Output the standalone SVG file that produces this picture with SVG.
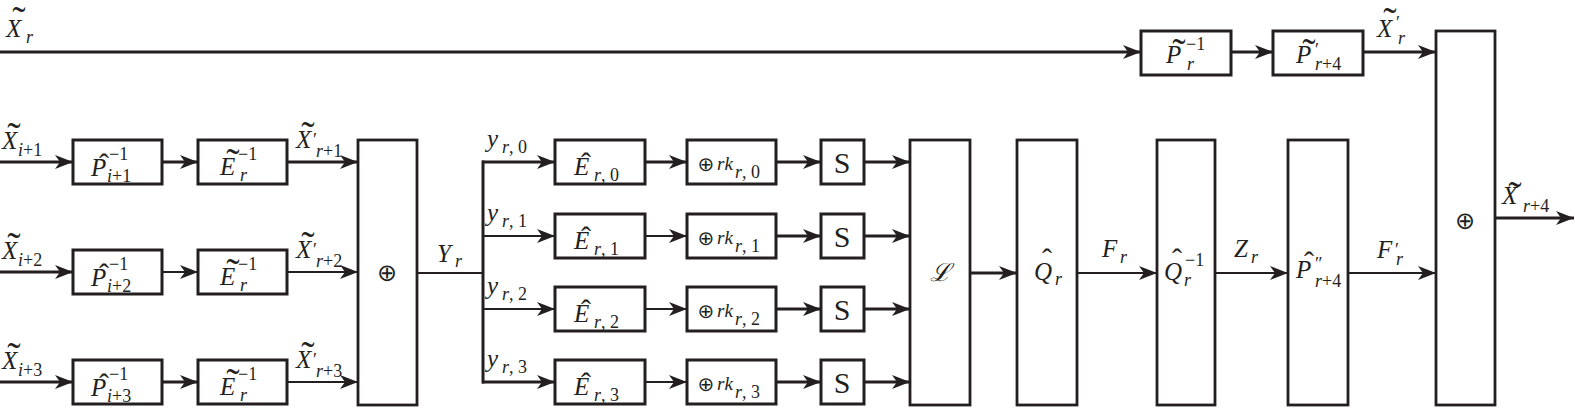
<svg xmlns="http://www.w3.org/2000/svg" width="1575" height="410" viewBox="0 0 1575 410" font-family="Liberation Serif, serif">
<style>
.box{fill:#fff;stroke:#231f20;stroke-width:3}
.tall{fill:#fff;stroke:#231f20;stroke-width:2.8}
.ln{fill:none;stroke:#231f20;stroke-width:3}
.thin{fill:none;stroke:#231f20;stroke-width:2.2}
.arr{marker-end:url(#ah)}
text{fill:#231f20;font-size:25px;font-style:italic}
.s{font-size:18px;font-style:normal}
.si{font-size:18px;font-style:italic}
.t{font-size:40px;font-style:normal;text-anchor:middle}
.h{font-size:30px;font-style:normal;text-anchor:middle}
.p{font-size:18px;font-style:normal}
.ox{font-size:24px;font-style:normal;text-anchor:middle}
.oxs{font-size:20px;font-style:normal;text-anchor:middle}
.S{font-size:30px;font-style:normal;text-anchor:middle}
</style>
<defs>
<marker id="ah" markerUnits="userSpaceOnUse" markerWidth="18" markerHeight="14" refX="18" refY="7" orient="auto">
<path d="M0,0 L18,7 L0,14 L5,7 Z" fill="#231f20"/>
</marker>
</defs>

<g id="connectors">
<line class="ln arr" x1="0" y1="52" x2="1141" y2="52"/>
<line class="ln arr" x1="1231" y1="52" x2="1273" y2="52"/>
<line class="ln arr" x1="1363" y1="52" x2="1436" y2="52"/>
<line class="ln arr" x1="1495" y1="218" x2="1574" y2="218"/>

<line class="ln arr" x1="0" y1="162" x2="73" y2="162"/>
<line class="ln arr" x1="162" y1="162" x2="198" y2="162"/>
<line class="ln arr" x1="287" y1="162" x2="358" y2="162"/>
<line class="ln arr" x1="0" y1="272" x2="73" y2="272"/>
<line class="thin arr" x1="162" y1="272" x2="198" y2="272"/>
<line class="thin arr" x1="287" y1="272" x2="358" y2="272"/>
<line class="ln arr" x1="0" y1="382" x2="73" y2="382"/>
<line class="ln arr" x1="162" y1="382" x2="198" y2="382"/>
<line class="thin arr" x1="287" y1="382" x2="358" y2="382"/>

<line class="thin" x1="417" y1="273" x2="483" y2="273"/>
<line class="ln" x1="483" y1="160.5" x2="483" y2="383.5"/>
<line class="ln arr" x1="482" y1="162" x2="555" y2="162"/>
<line class="thin arr" x1="482" y1="236" x2="555" y2="236"/>
<line class="thin arr" x1="482" y1="309" x2="555" y2="309"/>
<line class="ln arr" x1="482" y1="382" x2="555" y2="382"/>

<line class="ln arr" x1="645" y1="162" x2="687" y2="162"/>
<line class="thin arr" x1="645" y1="236" x2="687" y2="236"/>
<line class="thin arr" x1="645" y1="309" x2="687" y2="309"/>
<line class="thin arr" x1="645" y1="382" x2="687" y2="382"/>

<line class="ln arr" x1="776" y1="162" x2="821" y2="162"/>
<line class="ln arr" x1="776" y1="236" x2="821" y2="236"/>
<line class="ln arr" x1="776" y1="309" x2="821" y2="309"/>
<line class="ln arr" x1="776" y1="382" x2="821" y2="382"/>

<line class="ln arr" x1="864" y1="162" x2="910" y2="162"/>
<line class="ln arr" x1="864" y1="236" x2="910" y2="236"/>
<line class="ln arr" x1="864" y1="309" x2="910" y2="309"/>
<line class="ln arr" x1="864" y1="382" x2="910" y2="382"/>

<line class="ln arr" x1="970" y1="273" x2="1017" y2="273"/>
<line class="thin arr" x1="1077" y1="273" x2="1157" y2="273"/>
<line class="thin arr" x1="1215" y1="273" x2="1288" y2="273"/>
<line class="thin arr" x1="1348" y1="273" x2="1436" y2="273"/>
</g>

<g id="edge-labels">
<text style="font-family:'Liberation Serif',serif"><tspan x="6" y="37">X</tspan><tspan class="t" x="19" y="34">˜</tspan><tspan class="si" x="26" y="43">r</tspan></text>

<text style="font-family:'Liberation Serif',serif"><tspan x="2" y="149">X</tspan><tspan class="t" x="14" y="150">˜</tspan><tspan class="si" x="18" y="156">i</tspan><tspan class="s">+1</tspan></text>
<text style="font-family:'Liberation Serif',serif"><tspan x="2" y="259">X</tspan><tspan class="t" x="14" y="260">˜</tspan><tspan class="si" x="18" y="266">i</tspan><tspan class="s">+2</tspan></text>
<text style="font-family:'Liberation Serif',serif"><tspan x="2" y="369">X</tspan><tspan class="t" x="14" y="370">˜</tspan><tspan class="si" x="18" y="376">i</tspan><tspan class="s">+3</tspan></text>

<text style="font-family:'Liberation Serif',serif"><tspan x="296" y="148">X</tspan><tspan class="t" x="308" y="149">˜</tspan><tspan class="p" x="313" y="146">′</tspan><tspan class="si" x="316" y="157">r</tspan><tspan class="s">+1</tspan></text>
<text style="font-family:'Liberation Serif',serif"><tspan x="296" y="258">X</tspan><tspan class="t" x="308" y="259">˜</tspan><tspan class="p" x="313" y="256">′</tspan><tspan class="si" x="316" y="267">r</tspan><tspan class="s">+2</tspan></text>
<text style="font-family:'Liberation Serif',serif"><tspan x="296" y="368">X</tspan><tspan class="t" x="308" y="369">˜</tspan><tspan class="p" x="313" y="366">′</tspan><tspan class="si" x="316" y="377">r</tspan><tspan class="s">+3</tspan></text>

<text style="font-family:'Liberation Serif',serif"><tspan x="437" y="262">Y</tspan><tspan class="si" x="455" y="267">r</tspan></text>

<text style="font-family:'Liberation Serif',serif"><tspan x="487" y="147">y</tspan><tspan class="si" x="502" y="153">r</tspan><tspan class="s">, 0</tspan></text>
<text style="font-family:'Liberation Serif',serif"><tspan x="487" y="221">y</tspan><tspan class="si" x="502" y="227">r</tspan><tspan class="s">, 1</tspan></text>
<text style="font-family:'Liberation Serif',serif"><tspan x="487" y="294">y</tspan><tspan class="si" x="502" y="300">r</tspan><tspan class="s">, 2</tspan></text>
<text style="font-family:'Liberation Serif',serif"><tspan x="487" y="367">y</tspan><tspan class="si" x="502" y="373">r</tspan><tspan class="s">, 3</tspan></text>

<text style="font-family:'Liberation Serif',serif"><tspan x="1102" y="257">F</tspan><tspan class="si" x="1120" y="263">r</tspan></text>
<text style="font-family:'Liberation Serif',serif"><tspan x="1234" y="257">Z</tspan><tspan class="si" x="1251" y="263">r</tspan></text>
<text style="font-family:'Liberation Serif',serif"><tspan x="1377" y="258">F</tspan><tspan class="p" x="1395" y="256">′</tspan><tspan class="si" x="1396" y="265">r</tspan></text>

<text style="font-family:'Liberation Serif',serif"><tspan x="1377" y="37">X</tspan><tspan class="t" x="1390" y="35">˜</tspan><tspan class="p" x="1396" y="29">′</tspan><tspan class="si" x="1398" y="44">r</tspan></text>

<text style="font-family:'Liberation Serif',serif"><tspan x="1502" y="204">X</tspan><tspan class="t" x="1515" y="209">˜</tspan><tspan class="si" x="1523" y="212">r</tspan><tspan class="s">+4</tspan></text>
</g>

<g id="node-p-inv-1">
<rect class="box" x="73" y="140" width="89" height="44"/>
<text style="font-family:'Liberation Serif',serif"><tspan x="91" y="176">P</tspan><tspan class="h" x="104" y="174">ˆ</tspan><tspan class="s" x="109" y="160">−1</tspan><tspan class="si" x="107" y="182">i</tspan><tspan class="s">+1</tspan></text>
</g>
<g id="node-e-inv-1">
<rect class="box" x="198" y="140" width="89" height="44"/>
<text style="font-family:'Liberation Serif',serif"><tspan x="220" y="175">E</tspan><tspan class="t" x="233" y="176">˜</tspan><tspan class="s" x="238" y="160">−1</tspan><tspan class="si" x="240" y="181">r</tspan></text>
</g>
<g id="node-p-inv-2">
<rect class="box" x="73" y="250" width="89" height="44"/>
<text style="font-family:'Liberation Serif',serif"><tspan x="91" y="286">P</tspan><tspan class="h" x="104" y="284">ˆ</tspan><tspan class="s" x="109" y="270">−1</tspan><tspan class="si" x="107" y="292">i</tspan><tspan class="s">+2</tspan></text>
</g>
<g id="node-e-inv-2">
<rect class="box" x="198" y="250" width="89" height="44"/>
<text style="font-family:'Liberation Serif',serif"><tspan x="220" y="285">E</tspan><tspan class="t" x="233" y="286">˜</tspan><tspan class="s" x="238" y="270">−1</tspan><tspan class="si" x="240" y="291">r</tspan></text>
</g>
<g id="node-p-inv-3">
<rect class="box" x="73" y="360" width="89" height="44"/>
<text style="font-family:'Liberation Serif',serif"><tspan x="91" y="396">P</tspan><tspan class="h" x="104" y="394">ˆ</tspan><tspan class="s" x="109" y="380">−1</tspan><tspan class="si" x="107" y="402">i</tspan><tspan class="s">+3</tspan></text>
</g>
<g id="node-e-inv-3">
<rect class="box" x="198" y="360" width="89" height="44"/>
<text style="font-family:'Liberation Serif',serif"><tspan x="220" y="395">E</tspan><tspan class="t" x="233" y="396">˜</tspan><tspan class="s" x="238" y="380">−1</tspan><tspan class="si" x="240" y="401">r</tspan></text>
</g>

<g id="node-xor-left">
<rect class="tall" x="358" y="140" width="59" height="265"/>
<text class="ox" x="387" y="281" style="font-family:'DejaVu Sans',sans-serif">⊕</text>
</g>

<g id="node-e-0">
<rect class="box" x="555" y="140" width="90" height="44"/>
<text style="font-family:'Liberation Serif',serif"><tspan x="574" y="175">E</tspan><tspan class="h" x="586" y="173">ˆ</tspan><tspan class="si" x="594" y="181">r</tspan><tspan class="s">, 0</tspan></text>
</g>
<g id="node-e-1">
<rect class="box" x="555" y="214" width="90" height="44"/>
<text style="font-family:'Liberation Serif',serif"><tspan x="574" y="249">E</tspan><tspan class="h" x="586" y="247">ˆ</tspan><tspan class="si" x="594" y="255">r</tspan><tspan class="s">, 1</tspan></text>
</g>
<g id="node-e-2">
<rect class="box" x="555" y="287" width="90" height="44"/>
<text style="font-family:'Liberation Serif',serif"><tspan x="574" y="322">E</tspan><tspan class="h" x="586" y="320">ˆ</tspan><tspan class="si" x="594" y="328">r</tspan><tspan class="s">, 2</tspan></text>
</g>
<g id="node-e-3">
<rect class="box" x="555" y="360" width="90" height="44"/>
<text style="font-family:'Liberation Serif',serif"><tspan x="574" y="395">E</tspan><tspan class="h" x="586" y="393">ˆ</tspan><tspan class="si" x="594" y="401">r</tspan><tspan class="s">, 3</tspan></text>
</g>

<g id="node-rk-0">
<rect class="box" x="687" y="140" width="89" height="44"/>
<text style="font-family:'Liberation Serif',serif"><tspan class="oxs" style="font-family:'DejaVu Sans',sans-serif" x="706" y="171">⊕</tspan><tspan x="717" y="170" font-size="19px">rk</tspan><tspan class="si" x="735" y="178" font-size="16px">r</tspan><tspan class="s" font-size="16px">, 0</tspan></text>
</g>
<g id="node-rk-1">
<rect class="box" x="687" y="214" width="89" height="44"/>
<text style="font-family:'Liberation Serif',serif"><tspan class="oxs" style="font-family:'DejaVu Sans',sans-serif" x="706" y="245">⊕</tspan><tspan x="717" y="244" font-size="19px">rk</tspan><tspan class="si" x="735" y="252" font-size="16px">r</tspan><tspan class="s" font-size="16px">, 1</tspan></text>
</g>
<g id="node-rk-2">
<rect class="box" x="687" y="287" width="89" height="44"/>
<text style="font-family:'Liberation Serif',serif"><tspan class="oxs" style="font-family:'DejaVu Sans',sans-serif" x="706" y="318">⊕</tspan><tspan x="717" y="317" font-size="19px">rk</tspan><tspan class="si" x="735" y="325" font-size="16px">r</tspan><tspan class="s" font-size="16px">, 2</tspan></text>
</g>
<g id="node-rk-3">
<rect class="box" x="687" y="360" width="89" height="44"/>
<text style="font-family:'Liberation Serif',serif"><tspan class="oxs" style="font-family:'DejaVu Sans',sans-serif" x="706" y="391">⊕</tspan><tspan x="717" y="390" font-size="19px">rk</tspan><tspan class="si" x="735" y="398" font-size="16px">r</tspan><tspan class="s" font-size="16px">, 3</tspan></text>
</g>

<g id="node-s-0"><rect class="box" x="821" y="140" width="43" height="44"/><text class="S" x="842" y="173" style="font-family:'Liberation Serif',serif">S</text></g>
<g id="node-s-1"><rect class="box" x="821" y="214" width="43" height="44"/><text class="S" x="842" y="247" style="font-family:'Liberation Serif',serif">S</text></g>
<g id="node-s-2"><rect class="box" x="821" y="287" width="43" height="44"/><text class="S" x="842" y="320" style="font-family:'Liberation Serif',serif">S</text></g>
<g id="node-s-3"><rect class="box" x="821" y="360" width="43" height="44"/><text class="S" x="842" y="393" style="font-family:'Liberation Serif',serif">S</text></g>

<g id="node-L">
<rect class="tall" x="910" y="140" width="60" height="265"/>
<text x="940" y="281" font-size="26px" text-anchor="middle" style="font-family:'Liberation Serif',serif">ℒ</text>
</g>
<g id="node-Q">
<rect class="tall" x="1017" y="140" width="60" height="265"/>
<text style="font-family:'Liberation Serif',serif"><tspan x="1034" y="280">Q</tspan><tspan class="h" x="1047" y="269">ˆ</tspan><tspan class="si" x="1055" y="285">r</tspan></text>
</g>
<g id="node-Q-inv">
<rect class="tall" x="1157" y="140" width="58" height="265"/>
<text style="font-family:'Liberation Serif',serif"><tspan x="1164" y="280">Q</tspan><tspan class="h" x="1177" y="269">ˆ</tspan><tspan class="s" x="1185" y="266">−1</tspan><tspan class="si" x="1184" y="286">r</tspan></text>
</g>
<g id="node-P2">
<rect class="tall" x="1288" y="140" width="60" height="265"/>
<text style="font-family:'Liberation Serif',serif"><tspan x="1296" y="278">P</tspan><tspan class="h" x="1309" y="272">ˆ</tspan><tspan class="p" x="1315" y="270">″</tspan><tspan class="si" x="1315" y="287">r</tspan><tspan class="s">+4</tspan></text>
</g>

<g id="node-p-tilde-inv">
<rect class="box" x="1141" y="31" width="90" height="44"/>
<text style="font-family:'Liberation Serif',serif"><tspan x="1166" y="63">P</tspan><tspan class="t" x="1179" y="66">˜</tspan><tspan class="s" x="1186" y="50">−1</tspan><tspan class="si" x="1187" y="70">r</tspan></text>
</g>
<g id="node-p-tilde-prime">
<rect class="box" x="1273" y="31" width="90" height="44"/>
<text style="font-family:'Liberation Serif',serif"><tspan x="1296" y="63">P</tspan><tspan class="t" x="1309" y="66">˜</tspan><tspan class="p" x="1315" y="56">′</tspan><tspan class="si" x="1315" y="70">r</tspan><tspan class="s">+4</tspan></text>
</g>

<g id="node-xor-right">
<rect class="tall" x="1436" y="31" width="59" height="374"/>
<text class="ox" x="1465" y="229" style="font-family:'DejaVu Sans',sans-serif">⊕</text>
</g>
</svg>
